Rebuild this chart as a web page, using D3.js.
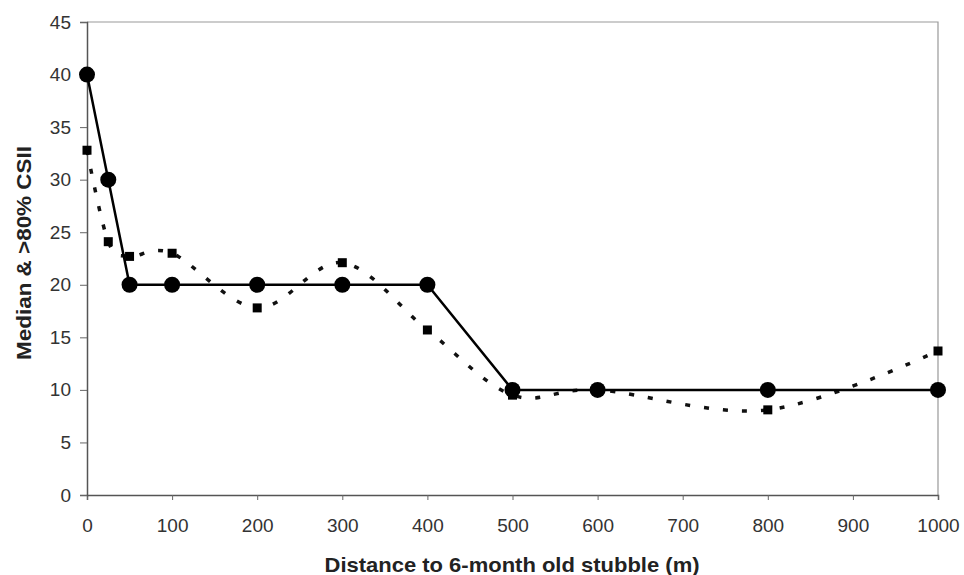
<!DOCTYPE html>
<html lang="en">
<head>
<meta charset="UTF-8">
<title>Median & >80% CSII</title>
<script src="https://d3js.org/d3.v7.min.js"></script>
<style>
  body { margin: 0; background: #fff; }
  svg text { font-family: "Liberation Sans", Arial, sans-serif; }
  .tick text { fill: #333; font-size: 19px; }
  .axis-title { font-weight: bold; font-size: 21px; fill: #222; }
</style>
</head>
<body>
<div id="chart"></div>
<script>
// data
const distance = [0, 25, 50, 100, 200, 300, 400, 500, 600, 800, 1000];
const median = [40, 30, 20, 20, 20, 20, 20, 10, 10, 10, 10];
const above80 = [32.8, 24.1, 22.7, 23, 17.8, 22.1, 15.7, 9.5, 10, 8.1, 13.7];
const xTicks = [0, 100, 200, 300, 400, 500, 600, 700, 800, 900, 1000];
const yTicks = [0, 5, 10, 15, 20, 25, 30, 35, 40, 45];

const margin = { top: 22, right: 26, bottom: 80, left: 87 };
const W = 964, H = 575;
const w = W - margin.left - margin.right;
const h = H - margin.top - margin.bottom;

const svg = d3.select("#chart").append("svg")
  .attr("width", W)
  .attr("height", H);

const g = svg.append("g")
  .attr("transform", "translate(" + margin.left + "," + margin.top + ")");

const x = d3.scaleLinear().domain([0, 1000]).range([0, w]);
const y = d3.scaleLinear().domain([0, 45]).range([h, 0]);

// plot area frame (top and right)
g.append("path")
  .attr("d", "M0,0H" + w + "V" + h)
  .attr("fill", "none")
  .attr("stroke", "#999")
  .attr("stroke-width", 1.2);

const xAxis = g.append("g")
  .attr("transform", "translate(0," + h + ")")
  .call(d3.axisBottom(x).tickValues(xTicks).tickFormat(d3.format("d"))
    .tickSize(5).tickPadding(19));

const yAxis = g.append("g")
  .call(d3.axisLeft(y).tickValues(yTicks).tickSize(7).tickPadding(9));

[xAxis, yAxis].forEach(a => {
  a.select(".domain").attr("stroke", "#555").attr("stroke-width", 1.5);
  a.selectAll(".tick line").attr("stroke", "#666");
});

const pts = (vals) => distance.map((d, i) => [d, vals[i]]);

// >80% series, smoothed dotted line
g.append("path")
  .datum(pts(above80))
  .attr("fill", "none")
  .attr("stroke", "#111")
  .attr("stroke-width", 3.5)
  .attr("stroke-dasharray", "5,14")
  .attr("d", d3.line()
    .x(d => x(d[0]))
    .y(d => y(d[1]))
    .curve(d3.curveCatmullRom.alpha(0)));

g.selectAll(".sq")
  .data(pts(above80))
  .enter()
  .append("rect")
  .attr("class", "sq")
  .attr("x", d => x(d[0]) - 4.5)
  .attr("y", d => y(d[1]) - 4.5)
  .attr("width", 9)
  .attr("height", 9)
  .attr("fill", "#000");

// median series, solid line with circles
g.append("path")
  .datum(pts(median))
  .attr("fill", "none")
  .attr("stroke", "#000")
  .attr("stroke-width", 2.5)
  .attr("d", d3.line().x(d => x(d[0])).y(d => y(d[1])));

g.selectAll(".dot")
  .data(pts(median))
  .enter()
  .append("circle")
  .attr("class", "dot")
  .attr("cx", d => x(d[0]))
  .attr("cy", d => y(d[1]))
  .attr("r", 8)
  .attr("fill", "#000");

// titles
svg.append("text")
  .attr("class", "axis-title")
  .attr("x", 512)
  .attr("y", 572)
  .attr("text-anchor", "middle")
  .attr("textLength", 375)
  .attr("lengthAdjust", "spacingAndGlyphs")
  .text("Distance to 6-month old stubble (m)");

svg.append("text")
  .attr("class", "axis-title")
  .attr("transform", "translate(31,253) rotate(-90)")
  .attr("text-anchor", "middle")
  .attr("textLength", 214)
  .attr("lengthAdjust", "spacingAndGlyphs")
  .text("Median & >80% CSII");
</script>
</body>
</html>
